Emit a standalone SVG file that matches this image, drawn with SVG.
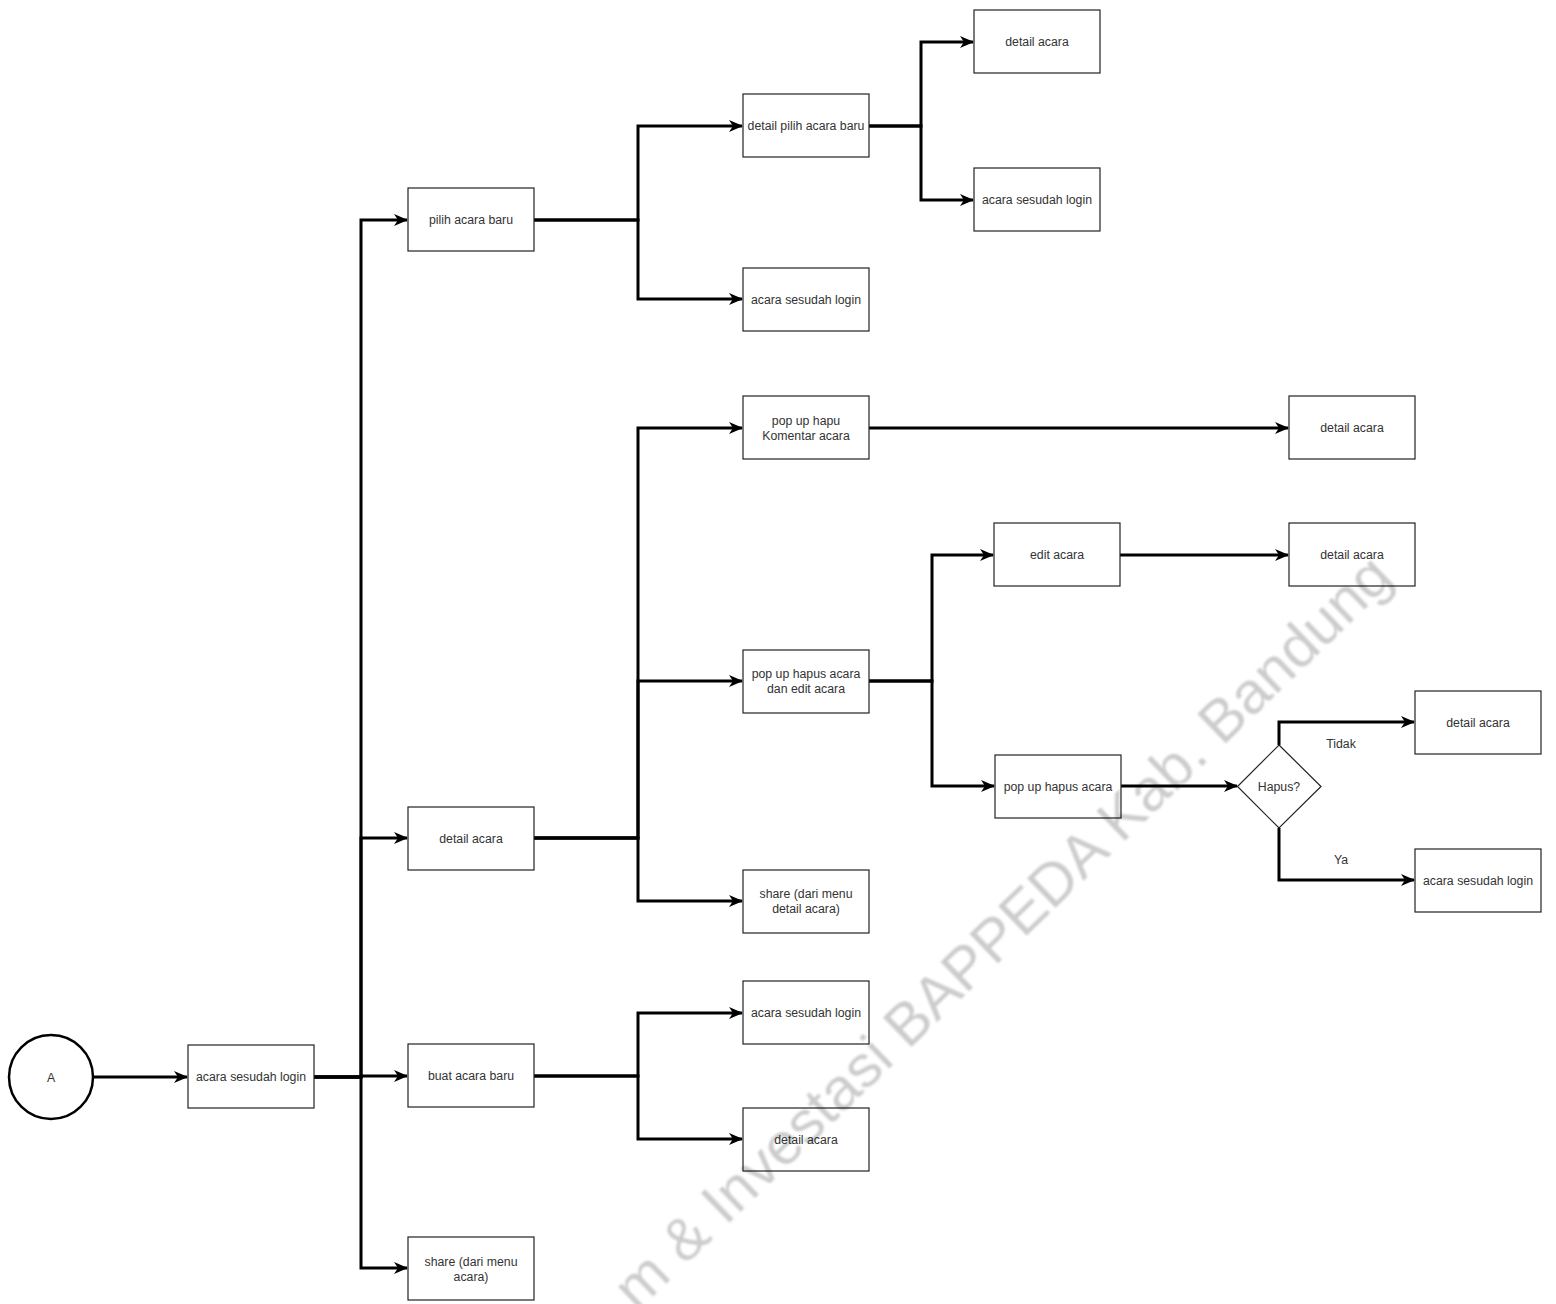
<svg xmlns="http://www.w3.org/2000/svg" width="1556" height="1304" viewBox="0 0 1556 1304">
<style>
.box{fill:#fff;stroke:#222;stroke-width:1.2}
.t{font-family:"Liberation Sans",Arial,sans-serif;font-size:12.3px;fill:#333;text-anchor:middle}
.e{fill:none;stroke:#000;stroke-width:3}
.wm{font-family:"Liberation Sans",Arial,sans-serif;font-size:60px;fill:#000;fill-opacity:0.2;text-anchor:middle}
</style>
<defs>
<marker id="arr" markerUnits="userSpaceOnUse" viewBox="0 0 14 12" markerWidth="14" markerHeight="12" refX="13" refY="6" orient="auto">
<path d="M0,0 L14,6 L0,12 L4,6 z" fill="#000"/>
</marker>
<filter id="blur"><feGaussianBlur stdDeviation="1"/></filter>
</defs>
<rect width="1556" height="1304" fill="#fff"/>
<g id="connectors">
<path class="e" d="M93,1077 H187" marker-end="url(#arr)"/>
<path class="e" d="M314,1077 H361 V220 H407" marker-end="url(#arr)"/>
<path class="e" d="M314,1077 H361 V838 H407" marker-end="url(#arr)"/>
<path class="e" d="M314,1077 H361 V1076 H407" marker-end="url(#arr)"/>
<path class="e" d="M314,1077 H361 V1268 H407" marker-end="url(#arr)"/>
<path class="e" d="M534,220 H638 V126 H742" marker-end="url(#arr)"/>
<path class="e" d="M534,220 H638 V299 H742" marker-end="url(#arr)"/>
<path class="e" d="M869,126 H921 V42 H973" marker-end="url(#arr)"/>
<path class="e" d="M869,126 H921 V200 H973" marker-end="url(#arr)"/>
<path class="e" d="M534,838 H638 V428 H742" marker-end="url(#arr)"/>
<path class="e" d="M534,838 H638 V681 H742" marker-end="url(#arr)"/>
<path class="e" d="M534,838 H638 V901 H742" marker-end="url(#arr)"/>
<path class="e" d="M869,428 H1288" marker-end="url(#arr)"/>
<path class="e" d="M869,681 H932 V555 H993" marker-end="url(#arr)"/>
<path class="e" d="M869,681 H932 V786 H994" marker-end="url(#arr)"/>
<path class="e" d="M1120,555 H1288" marker-end="url(#arr)"/>
<path class="e" d="M1121,786 H1237" marker-end="url(#arr)"/>
<path class="e" d="M1279,745 V722 H1414" marker-end="url(#arr)"/>
<path class="e" d="M1279,828 V880 H1414" marker-end="url(#arr)"/>
<path class="e" d="M534,1076 H638 V1013 H742" marker-end="url(#arr)"/>
<path class="e" d="M534,1076 H638 V1139 H742" marker-end="url(#arr)"/>
<text class="t" x="1341" y="748">Tidak</text>
<text class="t" x="1341" y="864">Ya</text>
</g>
<g id="nA"><circle cx="51" cy="1077" r="42" fill="#fff" stroke="#000" stroke-width="2.5"/><text class="t" x="51" y="1082">A</text></g>
<g id="n1"><rect class="box" x="188" y="1045" width="126" height="63"/><text class="t" x="251" y="1081">acara sesudah login</text></g>
<g id="n2"><rect class="box" x="408" y="188" width="126" height="63"/><text class="t" x="471" y="224">pilih acara baru</text></g>
<g id="n3"><rect class="box" x="408" y="807" width="126" height="63"/><text class="t" x="471" y="843">detail acara</text></g>
<g id="n4"><rect class="box" x="408" y="1044" width="126" height="63"/><text class="t" x="471" y="1080">buat acara baru</text></g>
<g id="n5"><rect class="box" x="408" y="1237" width="126" height="63"/><text class="t" x="471" y="1266">share (dari menu</text><text class="t" x="471" y="1281">acara)</text></g>
<g id="n6"><rect class="box" x="743" y="94" width="126" height="63"/><text class="t" x="806" y="130">detail pilih acara baru</text></g>
<g id="n7"><rect class="box" x="743" y="268" width="126" height="63"/><text class="t" x="806" y="304">acara sesudah login</text></g>
<g id="n8"><rect class="box" x="743" y="396" width="126" height="63"/><text class="t" x="806" y="425">pop up hapu</text><text class="t" x="806" y="440">Komentar acara</text></g>
<g id="n9"><rect class="box" x="743" y="650" width="126" height="63"/><text class="t" x="806" y="678">pop up hapus acara</text><text class="t" x="806" y="693">dan edit acara</text></g>
<g id="n10"><rect class="box" x="743" y="870" width="126" height="63"/><text class="t" x="806" y="898">share (dari menu</text><text class="t" x="806" y="913">detail acara)</text></g>
<g id="n11"><rect class="box" x="743" y="981" width="126" height="63"/><text class="t" x="806" y="1017">acara sesudah login</text></g>
<g id="n12"><rect class="box" x="743" y="1108" width="126" height="63"/><text class="t" x="806" y="1144">detail acara</text></g>
<g id="n13"><rect class="box" x="974" y="10" width="126" height="63"/><text class="t" x="1037" y="46">detail acara</text></g>
<g id="n14"><rect class="box" x="974" y="168" width="126" height="63"/><text class="t" x="1037" y="204">acara sesudah login</text></g>
<g id="n15"><rect class="box" x="994" y="523" width="126" height="63"/><text class="t" x="1057" y="559">edit acara</text></g>
<g id="n16"><rect class="box" x="995" y="755" width="126" height="63"/><text class="t" x="1058" y="791">pop up hapus acara</text></g>
<g id="n17"><rect class="box" x="1289" y="396" width="126" height="63"/><text class="t" x="1352" y="432">detail acara</text></g>
<g id="n18"><rect class="box" x="1289" y="523" width="126" height="63"/><text class="t" x="1352" y="559">detail acara</text></g>
<g id="n19"><path d="M1279,745 L1321,786.5 L1279,828 L1237.5,786.5 Z" fill="#fff" stroke="#222" stroke-width="1.2"/><text class="t" x="1279" y="791">Hapus?</text></g>
<g id="n20"><rect class="box" x="1415" y="691" width="126" height="63"/><text class="t" x="1478" y="727">detail acara</text></g>
<g id="n21"><rect class="box" x="1415" y="849" width="126" height="63"/><text class="t" x="1478" y="885">acara sesudah login</text></g>
<text class="wm" filter="url(#blur)" transform="translate(1016,946) rotate(-44)">m &amp; Investasi BAPPEDA Kab. Bandung</text>
</svg>
